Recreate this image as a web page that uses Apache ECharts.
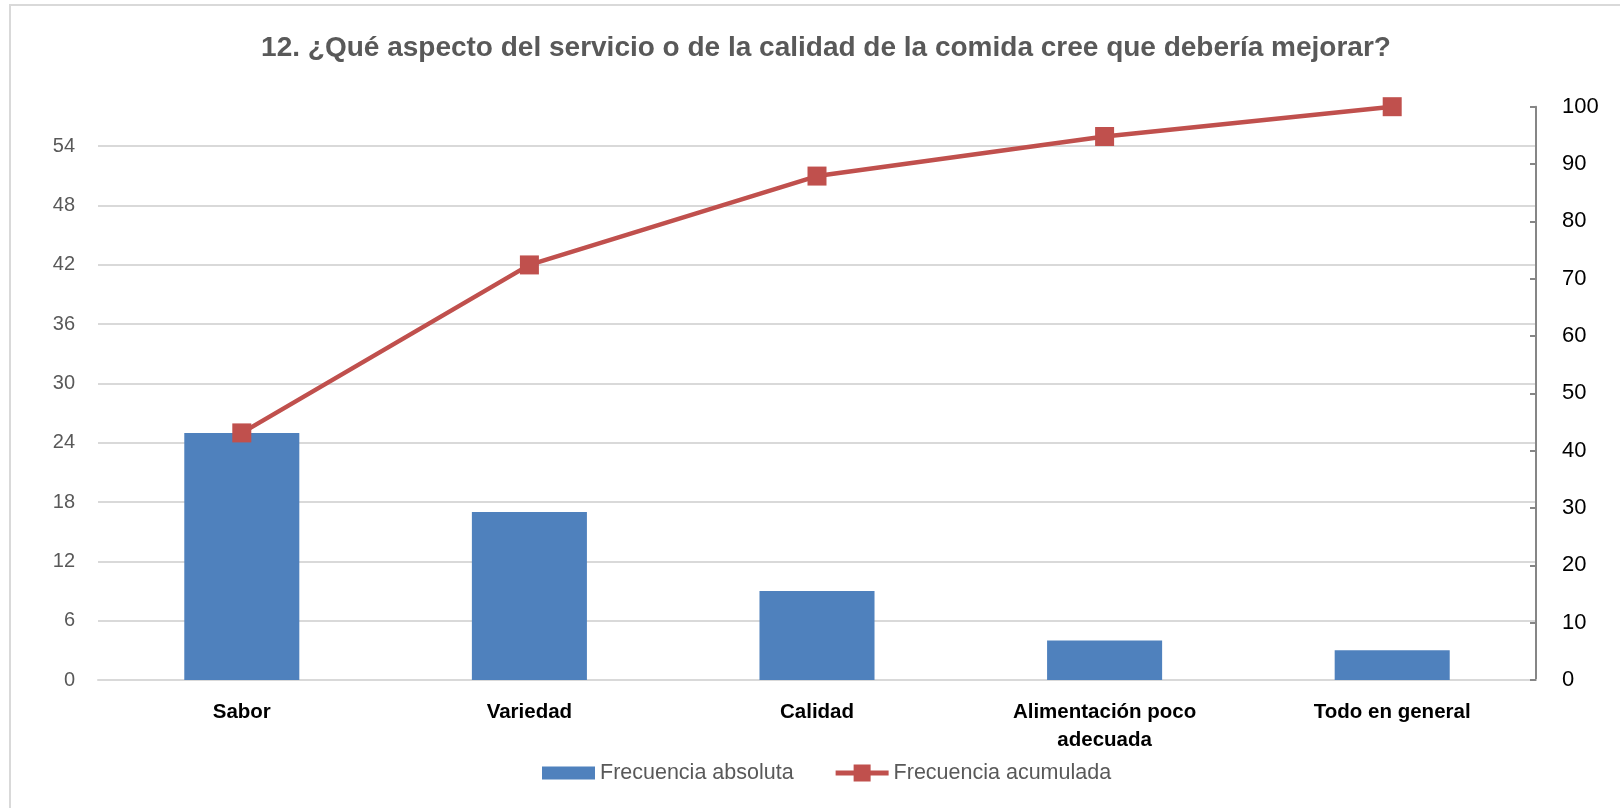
<!DOCTYPE html>
<html>
<head>
<meta charset="utf-8">
<title>Pareto - aspecto a mejorar</title>
<script src="https://cdn.jsdelivr.net/npm/echarts@6/dist/echarts.min.js"></script>
<style>
  html, body { margin: 0; padding: 0; background: #fff; }
  #chart { width: 1620px; height: 808px; }
</style>
</head>
<body>
<div id="chart"></div>
<script>
// categories and values
const categories = ['Sabor', 'Variedad', 'Calidad', 'Alimentación poco\nadecuada', 'Todo en general']
const frecuenciaAbsoluta = [25, 17, 9, 4, 3]
const frecuenciaAcumulada = [43.1, 72.4, 87.9, 94.8, 100]
const leftAxisMax = 58 // sum of frequencies, used by Excel as the top
const leftAxisStep = 6
const rightAxisMax = 100
const rightAxisStep = 10

const FONT = "'Liberation Sans', Arial, sans-serif"

// legend icons: flat blue box, thick line with a square marker
const barIcon = 'path://M0,0 M0,2 L53,2 L53,15 L0,15 Z M53,17'
const lineIcon = 'path://M0,6 L18,6 L18,0 L35,0 L35,6 L53,6 L53,11 L35,11 L35,17 L18,17 L18,11 L0,11 Z'

const chart = echarts.init(document.getElementById('chart'))

const option = {
  animation: false,
  backgroundColor: '#ffffff',
  title: {
    text: '12. ¿Qué aspecto del servicio o de la calidad de la comida cree que debería mejorar?',
    left: 826,
    textAlign: 'center',
    top: 34,
    padding: 0,
    textStyle: { fontFamily: FONT, fontSize: 28, fontWeight: 'bold', color: '#595959' },
  },
  graphic: [
    {
      type: 'rect',
      shape: { x: 10, y: 5, width: 1700, height: 900 },
      style: { fill: 'none', stroke: '#d9d9d9', lineWidth: 2 },
      silent: true,
    },
  ],
  legend: {
    left: 542,
    top: 762,
    itemWidth: 53,
    itemHeight: 17,
    itemGap: 42,
    padding: 0,
    textStyle: { fontFamily: FONT, fontSize: 21.5, color: '#595959' },
    data: [
      { name: 'Frecuencia absoluta', icon: barIcon, itemStyle: { color: '#4f81bd' } },
      { name: 'Frecuencia acumulada', icon: lineIcon, itemStyle: { color: '#c0504d' } },
    ],
  },
  grid: { left: 98, right: 84, top: 106.7, bottom: 128 },
  xAxis: {
    type: 'category',
    data: categories,
    axisLine: { show: true, lineStyle: { color: '#d9d9d9', width: 2 } },
    axisTick: { show: false },
    axisLabel: {
      interval: 0,
      margin: 18,
      fontFamily: FONT,
      fontSize: 20.5,
      fontWeight: 'bold',
      color: '#000000',
      lineHeight: 28,
    },
  },
  yAxis: [
    {
      type: 'value',
      min: 0,
      max: leftAxisMax,
      interval: leftAxisStep,
      axisLine: { show: false },
      axisTick: { show: false },
      axisLabel: {
        showMaxLabel: false,
        margin: 23,
        fontFamily: FONT,
        fontSize: 20,
        color: '#595959',
      },
      splitLine: { show: true, showMaxLine: false, lineStyle: { color: '#d9d9d9', width: 2 } },
    },
    {
      type: 'value',
      min: 0,
      max: rightAxisMax,
      interval: rightAxisStep,
      position: 'right',
      axisLine: { show: true, lineStyle: { color: '#868686', width: 2 } },
      axisTick: { show: true, inside: true, length: 6, lineStyle: { color: '#868686', width: 2 } },
      axisLabel: {
        margin: 26,
        fontFamily: FONT,
        fontSize: 22,
        color: '#000000',
      },
      splitLine: { show: false },
    },
  ],
  series: [
    {
      name: 'Frecuencia absoluta',
      type: 'bar',
      barWidth: '40%',
      itemStyle: { color: '#4f81bd' },
      data: frecuenciaAbsoluta,
    },
    {
      name: 'Frecuencia acumulada',
      type: 'line',
      yAxisIndex: 1,
      symbol: 'rect',
      symbolSize: 19,
      itemStyle: { color: '#c0504d' },
      lineStyle: { color: '#c0504d', width: 4.5 },
      data: frecuenciaAcumulada,
    },
  ],
}

chart.setOption(option)
</script>
</body>
</html>
